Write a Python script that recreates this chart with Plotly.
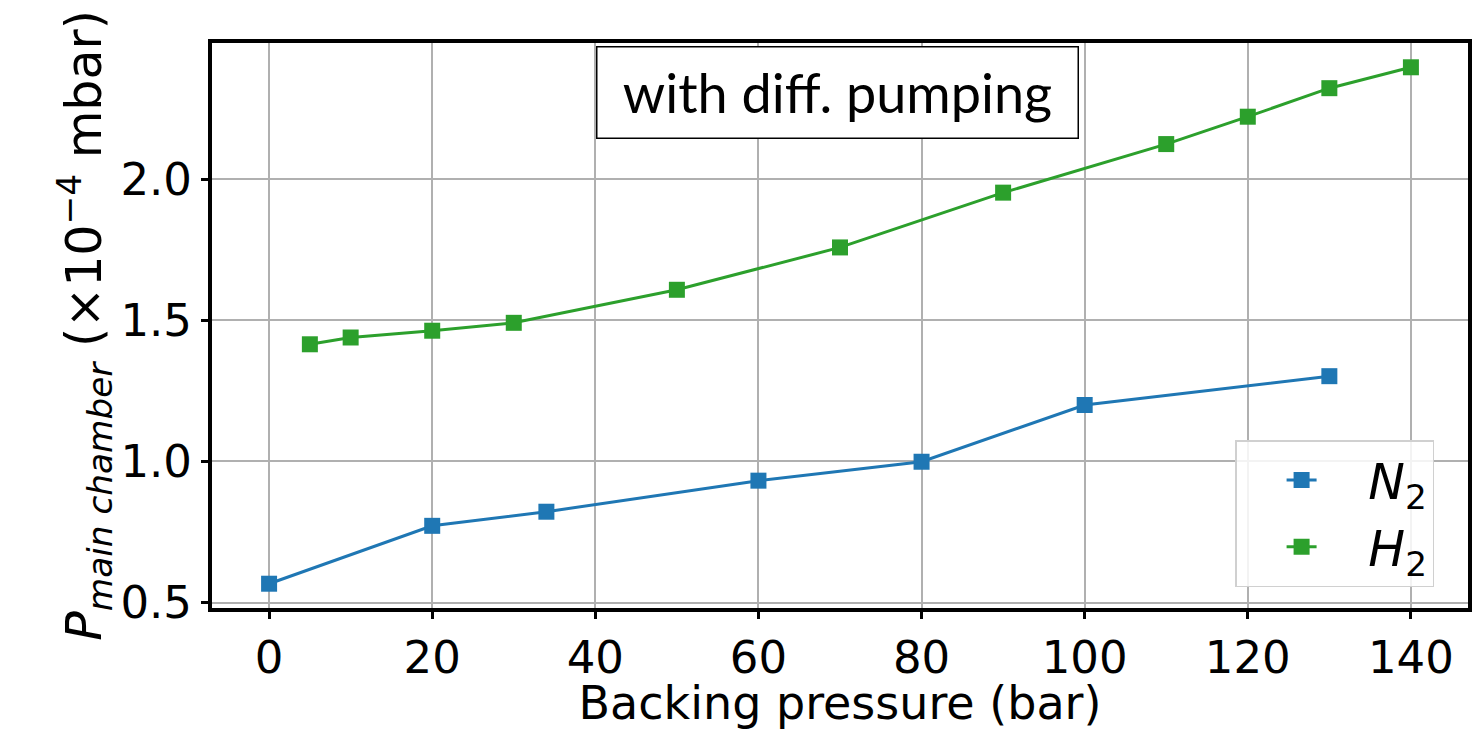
import plotly.graph_objects as go

# Data
n2_x = [0, 20, 34, 60, 80, 100, 130]
n2_y = [0.567, 0.772, 0.822, 0.932, 0.999, 1.20, 1.302]
h2_x = [5, 10, 20, 30, 50, 70, 90, 110, 120, 130, 140]
h2_y = [1.415, 1.439, 1.463, 1.491, 1.608, 1.758, 1.952, 2.124, 2.221, 2.322, 2.396]
x_ticks = [0, 20, 40, 60, 80, 100, 120, 140]
y_ticks = [0.5, 1.0, 1.5, 2.0]

BLUE = "#1f77b4"
GREEN = "#2ca02c"
FONT = "DejaVu Sans"

fig = go.Figure()
fig.add_trace(go.Scatter(x=n2_x, y=n2_y, mode="lines+markers",
                         name="&nbsp;&nbsp;&nbsp;<i>N</i><sub>2</sub>",
                         line=dict(color=BLUE, width=3),
                         marker=dict(symbol="square", size=16, color=BLUE)))
fig.add_trace(go.Scatter(x=h2_x, y=h2_y, mode="lines+markers",
                         name="&nbsp;&nbsp;&nbsp;<i>H</i><sub>2</sub>",
                         line=dict(color=GREEN, width=3),
                         marker=dict(symbol="square", size=16, color=GREEN)))

axis_common = dict(showline=True, linecolor="black", linewidth=4, mirror=True,
                   showgrid=True, gridcolor="#b0b0b0", gridwidth=1.5,
                   ticks="outside", ticklen=7, tickwidth=3, tickcolor="black",
                   zeroline=False, tickfont=dict(family=FONT, size=45, color="black"))

fig.update_xaxes(range=[-7, 147], tickvals=x_ticks, ticktext=[str(v) for v in x_ticks],
                 title=dict(text="Backing pressure (bar)", font=dict(family=FONT, size=46, color="black"),
                            standoff=5),
                 **axis_common)
fig.update_yaxes(range=[0.481, 2.482], tickvals=y_ticks, ticktext=["%.1f" % v for v in y_ticks],
                 title=dict(text="<i>P</i><sub><i>main chamber</i></sub> (×10<sup>−4</sup> mbar)",
                            font=dict(family=FONT, size=49, color="black"), standoff=4),
                 **axis_common)

fig.add_annotation(x=0.498, y=0.913, xref="paper", yref="paper", xanchor="center", yanchor="middle",
                   text="with diff. pumping", showarrow=False,
                   font=dict(family="Lato", size=54, color="black"),
                   width=460, height=70,
                   bgcolor="white", bordercolor="black", borderwidth=1.5, borderpad=10)

fig.update_layout(
    width=1481, height=730,
    margin=dict(l=212, r=9, t=43, b=121),
    plot_bgcolor="white", paper_bgcolor="white",
    showlegend=True,
    legend=dict(x=0.973, y=0.037, xanchor="right", yanchor="bottom",
                bgcolor="rgba(255,255,255,0.85)", bordercolor="#d0d0d0", borderwidth=1.5,
                font=dict(family=FONT, size=49, color="black"),
                indentation=45),
)

fig.write_html("out.html")
